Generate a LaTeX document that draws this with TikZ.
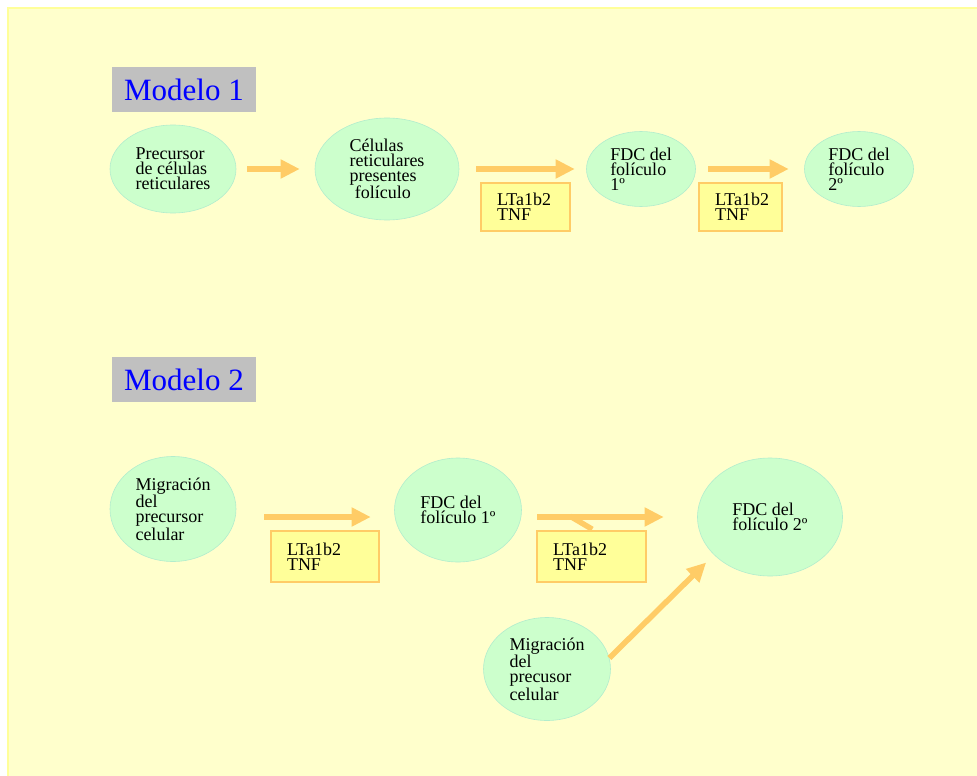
\documentclass[tikz,border=0pt]{standalone}
\usepackage{fontspec}
\setmainfont{Liberation Serif}
\usepackage{tikz}
\usetikzlibrary{calc}
\usetikzlibrary{arrows.meta}
\usetikzlibrary{shapes.geometric}
\definecolor{ffffcc}{rgb}{1.,1.,0.8}
\definecolor{ffff99}{rgb}{1.,1.,0.6}
\definecolor{ccffcc}{rgb}{0.8,1.,0.8}
\definecolor{b3eecc}{rgb}{0.7,0.93,0.8}
\definecolor{ffcc66}{rgb}{1.,0.8,0.4}
\definecolor{cccccc}{rgb}{0.753,0.753,0.753}
\definecolor{qqqqff}{rgb}{0.,0.,1.}
\begin{document}
\begin{tikzpicture}[line cap=butt,line join=miter,x=1pt,y=-1pt,
    celula/.style={ellipse,fill=ccffcc,draw=b3eecc,line width=0.6pt,inner sep=0pt,align=left,
        font={\fontsize{18}{15}\selectfont}},
    citoq/.style={rectangle,fill=ffff99,draw=ffcc66,line width=1.5pt,inner xsep=16pt,inner ysep=0pt,
        align=left,font={\fontsize{18}{15}\selectfont}},
    modelo/.style={rectangle,fill=cccccc,text=qqqqff,minimum width=144pt,minimum height=45pt,
        inner sep=0pt,font={\fontsize{31}{31}\selectfont}},
    flecha/.style={-{Triangle[length=19pt,width=18pt]},line width=5.5pt,draw=ffcc66}]
\useasboundingbox (0,0) rectangle (977,776);
\draw[fill=ffffcc,draw=ffff99,line width=2pt] (8,8) rectangle (990,790);
\coordinate (r1) at (0,169);
\coordinate (r2) at (0,517);
%% Modelo 1
\node[modelo] (m1) at (184,89.5) {Modelo 1};
\node[celula,minimum width=126pt,minimum height=88pt] (a1) at (173,169) {Precursor\\de células\\reticulares};
\node[celula,minimum width=144pt,minimum height=102pt] (b1) at (387,169) {Células\\reticulares\\presentes\\\hspace{0.3em}folículo};
\node[celula,minimum width=109pt,minimum height=75pt] (c1) at (641,169) {FDC del\\folículo\\1º};
\node[celula,minimum width=109pt,minimum height=75pt] (d1) at (859,169) {FDC del\\folículo\\2º};
\node[citoq,text width=57pt,minimum height=48pt] (lt1) at (525.5,207) {LTa1b2\\TNF};
\node[citoq,text width=51pt,minimum height=48pt] (lt2) at (740.5,207) {LTa1b2\\TNF};
\draw[flecha,shorten <=11pt,shorten >=15pt] (a1.east |- r1) -- (b1.west |- r1);
\draw[flecha,shorten <=17pt,shorten >=11.5pt] (b1.east |- r1) -- (c1.west |- r1);
\draw[flecha,shorten <=12.5pt,shorten >=15.5pt] (c1.east |- r1) -- (d1.west |- r1);
%% Modelo 2
\node[modelo] (m2) at (184,379.5) {Modelo 2};
\node[celula,minimum width=126pt,minimum height=105pt] (a2) at (173,509) {Migración\\del\\precursor\\celular};
\node[celula,minimum width=127pt,minimum height=104pt] (b2) at (458,510) {FDC del\\folículo 1º};
\node[celula,minimum width=145pt,minimum height=118pt] (c2) at (770,517) {FDC del\\folículo 2º};
\node[celula,minimum width=127pt,minimum height=103pt] (d2) at (547,669) {Migración\\del\\precusor\\celular};
\node[citoq,text width=76pt,minimum height=51pt] (lt3) at (325,556.5) {LTa1b2\\TNF};
\node[citoq,text width=77pt,minimum height=51pt] (lt4) at (591.5,556.5) {LTa1b2\\TNF};
\draw[flecha,shorten <=28pt,shorten >=23.5pt] (a2.east |- r2) -- (b2.west |- r2);
\draw[flecha,shorten <=15.5pt,shorten >=33.5pt] (b2.east |- r2) -- (c2.west |- r2);
\draw[line width=5.5pt,draw=ffcc66] ([shift={(34,-14)}]lt4.north west) -- ([shift={(56,-1)}]lt4.north west);
\draw[flecha,shorten >=11pt] (d2.10) -- (c2.214);
\end{tikzpicture}
\end{document}
